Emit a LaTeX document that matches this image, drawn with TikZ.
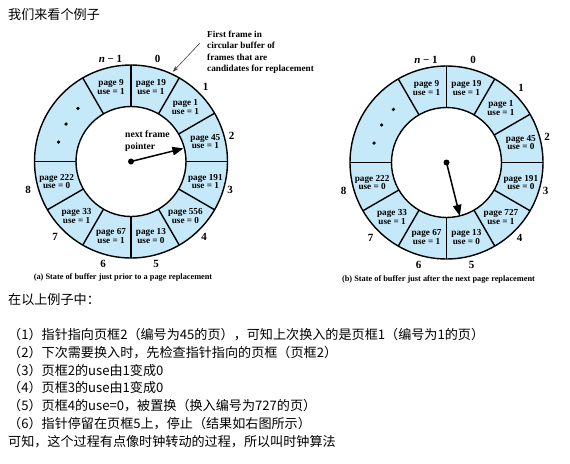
\documentclass[tikz,border=0pt]{standalone}
\usepackage{fontspec}
\setmainfont{Liberation Serif}
\newfontfamily\cjk{Noto Sans CJK SC}
\usetikzlibrary{arrows.meta,calc}
\definecolor{ringblue}{RGB}{197,233,248}
\begin{document}
\begin{tikzpicture}[x=1pt,y=-1pt,
  ringline/.style={line width=1.4pt,black},
  pagetxt/.style={inner sep=0pt,align=center,font=\bfseries\fontsize{9.2}{8.7}\selectfont},
  idx/.style={inner sep=0pt,font=\bfseries\fontsize{11}{12}\selectfont},
  captxt/.style={inner sep=0pt,font=\bfseries\fontsize{8.3}{10}\selectfont},
  ptrtxt/.style={inner sep=0pt,align=left,font=\bfseries\fontsize{9.6}{12}\selectfont},
  pointer/.style={line width=1.5pt,-{Triangle[length=11pt,width=8.5pt]}},
  cn/.style={inner sep=0pt,anchor=base west,font=\cjk\fontsize{13.1}{16}\selectfont}]
\useasboundingbox (0,0) rectangle (570,463);

% ---------- left clock ----------
\begin{scope}[shift={(131,161.5)}]
  \coordinate (LC) at (0,0);
  \fill[ringblue] (LC) circle[radius=96.5pt];
  \fill[white] (LC) circle[radius=55pt];
  \draw[ringline] (LC) circle[radius=96.5pt];
  \draw[ringline] (LC) circle[radius=55pt];
  \foreach \a in {120,90,60,30,0,-30,-60,-90,-120,-150,180}
    \draw[ringline] (\a:55pt) -- (\a:96.5pt);
  \foreach \a/\t [count=\i] in {105/{page 9\\use = 1},75/{page 19\\use = 1},45/{page 1\\use = 1},
      15/{page 45\\use = 1},-15/{page 191\\use = 1},-45/{page 556\\use = 0},-75/{page 13\\use = 0},
      -105/{page 67\\use = 1},-135/{page 33\\use = 1},-165/{page 222\\use = 0}}
    \node[pagetxt] (Lp\i) at (\a:77pt) {\t};
  \foreach \a in {135,150,165}
    \fill (\a:75pt) circle[radius=1.8pt];
  \node[idx] (Lnm1) at (-20.5,-103) {\textit{n} − 1};
  \node[idx] (L0) at (26.5,-102.5) {0};
  \node[idx] (L1) at (74.5,-75) {1};
  \node[idx] (L2) at (100.5,-25.5) {2};
  \node[idx] (L3) at (99,28) {3};
  \node[idx] (L4) at (73,75) {4};
  \node[idx] (L5) at (25,102) {5};
  \node[idx] (L6) at (-28,102) {6};
  \node[idx] (L7) at (-76,75) {7};
  \node[idx] (L8) at (-103,28.5) {8};
  \fill (LC) circle[radius=3pt];
  \coordinate (Ltip) at (14:54pt);
  \draw[pointer] (LC) -- (Ltip);
  \coordinate (Aend) at (65:99pt);
\end{scope}
\node[ptrtxt,anchor=north west] (ptr) at (125,131) {next frame\\pointer};
\node[captxt] (capa) at (123,277) {(a) State of buffer just prior to a page replacement};

\node[inner sep=0pt,align=left,anchor=north west,font=\bfseries\fontsize{9.2}{11.5}\selectfont] (ann) at (207,30.5)
  {First frame in\\circular buffer of\\frames that are\\candidates for replacement};
\coordinate (Astart) at (200,43);
\draw[line width=0.6pt,black!75,-{Stealth[length=6pt,width=4pt]}] (Astart) -- (Aend);

% ---------- right clock ----------
\begin{scope}[shift={(446.5,162.5)}]
  \coordinate (RC) at (0,0);
  \fill[ringblue] (RC) circle[radius=96.5pt];
  \fill[white] (RC) circle[radius=55pt];
  \draw[ringline] (RC) circle[radius=96.5pt];
  \draw[ringline] (RC) circle[radius=55pt];
  \foreach \a in {120,90,60,30,0,-30,-60,-90,-120,-150,180}
    \draw[ringline] (\a:55pt) -- (\a:96.5pt);
  \foreach \a/\t [count=\i] in {105/{page 9\\use = 1},75/{page 19\\use = 1},45/{page 1\\use = 1},
      15/{page 45\\use = 0},-15/{page 191\\use = 0},-45/{page 727\\use = 1},-75/{page 13\\use = 0},
      -105/{page 67\\use = 1},-135/{page 33\\use = 1},-165/{page 222\\use = 0}}
    \node[pagetxt] (Rp\i) at (\a:77pt) {\t};
  \foreach \a in {135,150,165}
    \fill (\a:75pt) circle[radius=1.8pt];
  \node[idx] (Rnm1) at (-20.5,-103) {\textit{n} − 1};
  \node[idx] (R0) at (26.5,-102.5) {0};
  \node[idx] (R1) at (74.5,-75) {1};
  \node[idx] (R2) at (100.5,-25.5) {2};
  \node[idx] (R3) at (99,28) {3};
  \node[idx] (R4) at (73,75) {4};
  \node[idx] (R5) at (25,102) {5};
  \node[idx] (R6) at (-28,102) {6};
  \node[idx] (R7) at (-76,75) {7};
  \node[idx] (R8) at (-103,28.5) {8};
  \fill (RC) circle[radius=3pt];
  \coordinate (Rtip) at (-76:55pt);
  \draw[pointer] (RC) -- (Rtip);
\end{scope}
\node[captxt] (capb) at (438.5,279) {(b) State of buffer just after the next page replacement};

% ---------- Chinese text ----------
\node[cn] (title) at (8,19.2) {我们来看个例子};
\node[cn] (intro) at (8,304) {在以上例子中：};
\node[cn] (s1) at (8,339.8) {（1）指针指向页框2（编号为45的页），可知上次换入的是页框1（编号为1的页）};
\node[cn] (s2) at (8,357.5) {（2）下次需要换入时，先检查指针指向的页框（页框2）};
\node[cn] (s3) at (8,375.2) {（3）页框2的use由1变成0};
\node[cn] (s4) at (8,392.9) {（4）页框3的use由1变成0};
\node[cn] (s5) at (8,410.6) {（5）页框4的use=0，被置换（换入编号为727的页）};
\node[cn] (s6) at (8,428.3) {（6）指针停留在页框5上，停止（结果如右图所示）};
\node[cn] (concl) at (8,446) {可知，这个过程有点像时钟转动的过程，所以叫时钟算法};
\end{tikzpicture}
\end{document}
